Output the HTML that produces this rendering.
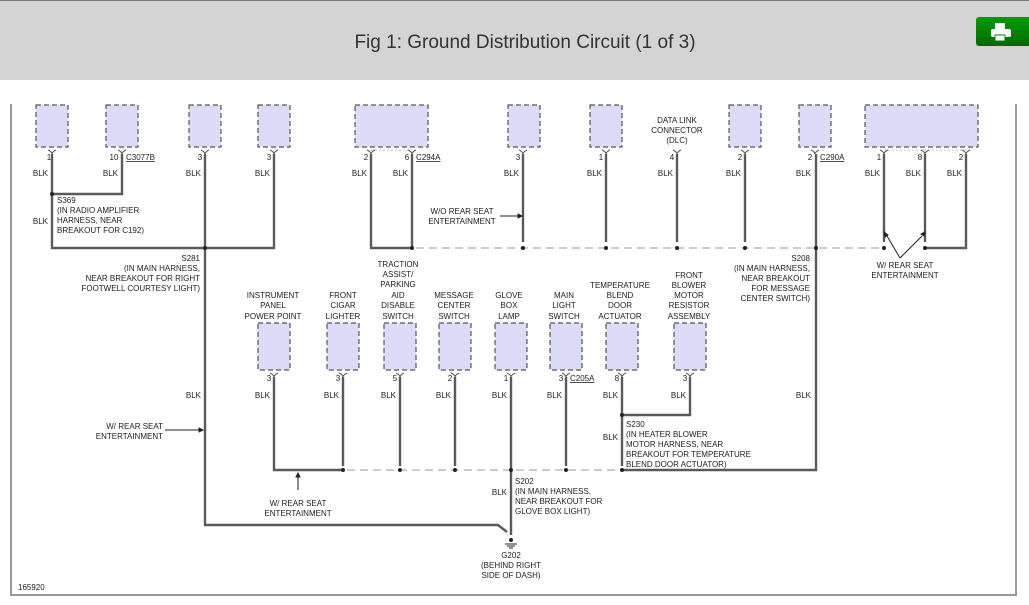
<!DOCTYPE html>
<html><head><meta charset="utf-8"><style>
html,body{margin:0;padding:0;width:1029px;height:605px;overflow:hidden;background:#fff;font-family:"Liberation Sans",Arial,sans-serif;}
#hdr{position:absolute;left:0;top:0;width:1029px;height:80px;background:#d4d4d4;border-top:1px solid #777;box-sizing:border-box;}
#title{position:absolute;left:0;width:1050px;top:31px;text-align:center;font-size:19px;color:#333;}
#btn{position:absolute;left:976px;top:16px;width:60px;height:29px;background:linear-gradient(#0a9a0a,#006a00);border-radius:3px;}
svg{position:absolute;left:0;top:0;}
text{font-family:"Liberation Sans",Arial,sans-serif;font-size:8px;fill:#222;}
</style></head><body>
<div id="hdr"><div id="title">Fig 1: Ground Distribution Circuit (1 of 3)</div>
<div id="btn"><svg width="40" height="29" style="position:absolute;left:12px;top:4px"><rect x="7" y="2" width="10" height="6" fill="#fff"/><rect x="3" y="8" width="20" height="8" rx="2" fill="#fff"/><rect x="7" y="14" width="10" height="6" fill="#fff" stroke="#080" stroke-width="1"/></svg></div></div>
<svg width="1029" height="605">
<g stroke="#999" stroke-width="2" fill="none"><path d="M11 104V595H1016V104"/></g>
<g fill="#dcdcf8" stroke="#555" stroke-dasharray="5,3" stroke-width="1.2">
<rect x="36" y="105" width="32" height="42"/><rect x="106" y="105" width="32" height="42"/><rect x="189" y="105" width="32" height="42"/><rect x="258" y="105" width="32" height="42"/><rect x="355" y="105" width="73" height="42"/><rect x="508" y="105" width="32" height="42"/><rect x="590" y="105" width="32" height="42"/><rect x="729" y="105" width="32" height="42"/><rect x="799" y="105" width="32" height="42"/><rect x="865" y="105" width="113" height="42"/>
<rect x="258" y="323" width="32" height="47"/><rect x="327" y="323" width="32" height="47"/><rect x="384" y="323" width="32" height="47"/><rect x="439" y="323" width="32" height="47"/><rect x="495" y="323" width="32" height="47"/><rect x="550" y="323" width="32" height="47"/><rect x="606" y="323" width="32" height="47"/><rect x="674" y="323" width="32" height="47"/>
</g>
<g stroke="#bbb" stroke-dasharray="2,2" stroke-width="1"><path d="M371 150H412M884 150H966"/></g>
<g stroke="#555" stroke-width="1" fill="none">
<path d="M48 150q4 2 4 4q0-2 4-4M118 150q4 2 4 4q0-2 4-4M201 150q4 2 4 4q0-2 4-4M270 150q4 2 4 4q0-2 4-4M367 150q4 2 4 4q0-2 4-4M408 150q4 2 4 4q0-2 4-4M519 150q4 2 4 4q0-2 4-4M602 150q4 2 4 4q0-2 4-4M673 150q4 2 4 4q0-2 4-4M741 150q4 2 4 4q0-2 4-4M811 150q4 2 4 4q0-2 4-4M880 150q4 2 4 4q0-2 4-4M921 150q4 2 4 4q0-2 4-4M962 150q4 2 4 4q0-2 4-4"/>
<path d="M270 373q4 2 4 4q0-2 4-4M339 373q4 2 4 4q0-2 4-4M396 373q4 2 4 4q0-2 4-4M451 373q4 2 4 4q0-2 4-4M507 373q4 2 4 4q0-2 4-4M562 373q4 2 4 4q0-2 4-4M618 373q4 2 4 4q0-2 4-4M686 373q4 2 4 4q0-2 4-4"/>
</g>
<g stroke="#5a5a5a" stroke-width="2.4" fill="none">
<path d="M52 154V248H274V154M122 154V194H52M205 154V525H498L507 532M371 154V248H412V154"/>
<path d="M523 154V242M606 154V242M677 154V242M745 154V242M816 154V470H622M884 154V242M925 154V242M966 154V248H925"/>
<path d="M274 377V470H343M343 377V466M400 377V466M455 377V466M511 377V535M566 377V466M622 377V466M690 377V415H622"/>
</g>
<g stroke="#ccc" stroke-width="2" stroke-dasharray="8,5"><path d="M416 248H884M347 470H618"/></g>
<g fill="#222"><circle cx="52" cy="194" r="2"/><circle cx="205" cy="248" r="2"/><circle cx="412" cy="248" r="2"/><circle cx="523" cy="248" r="2"/><circle cx="606" cy="248" r="2"/><circle cx="677" cy="248" r="2"/><circle cx="745" cy="248" r="2"/><circle cx="816" cy="248" r="2"/><circle cx="884" cy="248" r="2"/><circle cx="925" cy="248" r="2"/>
<circle cx="622" cy="415" r="2"/><circle cx="343" cy="470" r="2"/><circle cx="400" cy="470" r="2"/><circle cx="455" cy="470" r="2"/><circle cx="511" cy="470" r="2"/><circle cx="566" cy="470" r="2"/><circle cx="622" cy="470" r="2"/><circle cx="511" cy="540" r="2"/></g>
<g stroke="#222" stroke-width="1" fill="#222">
<path d="M500 216H519" fill="none"/><path d="M522 216l-4-2v4z"/>
<path d="M165 430H199" fill="none"/><path d="M203 430l-4-2v4z"/>
<path d="M298 490V477" fill="none"/><path d="M298 473l-2 4h4z"/>
<path d="M900 258L887 236M900 258L922 236" fill="none"/><path d="M884 232l1 5 3-2zM925 232l-4 2 3 2z"/>
<path d="M505 544H517M507 546H515M509 548H513" fill="none"/>
</g>
<g text-anchor="middle">
<text x="49" y="160">1</text><text x="114" y="160">10</text><text x="200" y="160">3</text><text x="269" y="160">3</text><text x="366" y="160">2</text><text x="407" y="160">6</text><text x="518" y="160">3</text><text x="601" y="160">1</text><text x="672" y="160">4</text><text x="740" y="160">2</text><text x="810" y="160">2</text><text x="879" y="160">1</text><text x="920" y="160">8</text><text x="961" y="160">2</text>
<text x="677" y="123">DATA LINK</text><text x="677" y="133">CONNECTOR</text><text x="677" y="143">(DLC)</text>
<text x="269" y="381">3</text><text x="338" y="381">3</text><text x="395" y="381">5</text><text x="450" y="381">2</text><text x="506" y="381">1</text><text x="561" y="381">3</text><text x="617" y="381">8</text><text x="685" y="381">3</text>
<text x="273" y="298">INSTRUMENT</text><text x="273" y="308">PANEL</text><text x="273" y="319">POWER POINT</text>
<text x="343" y="298">FRONT</text><text x="343" y="308">CIGAR</text><text x="343" y="319">LIGHTER</text>
<text x="398" y="267">TRACTION</text><text x="398" y="277">ASSIST/</text><text x="398" y="287">PARKING</text><text x="398" y="298">AID</text><text x="398" y="308">DISABLE</text><text x="398" y="319">SWITCH</text>
<text x="454" y="298">MESSAGE</text><text x="454" y="308">CENTER</text><text x="454" y="319">SWITCH</text>
<text x="509" y="298">GLOVE</text><text x="509" y="308">BOX</text><text x="509" y="319">LAMP</text>
<text x="564" y="298">MAIN</text><text x="564" y="308">LIGHT</text><text x="564" y="319">SWITCH</text>
<text x="620" y="288">TEMPERATURE</text><text x="620" y="298">BLEND</text><text x="620" y="308">DOOR</text><text x="620" y="319">ACTUATOR</text>
<text x="689" y="278">FRONT</text><text x="689" y="288">BLOWER</text><text x="689" y="298">MOTOR</text><text x="689" y="308">RESISTOR</text><text x="689" y="319">ASSEMBLY</text>
<text x="462" y="214">W/O REAR SEAT</text><text x="462" y="224">ENTERTAINMENT</text>
<text x="905" y="268">W/ REAR SEAT</text><text x="905" y="278">ENTERTAINMENT</text>
<text x="298" y="506">W/ REAR SEAT</text><text x="298" y="516">ENTERTAINMENT</text>
<text x="511" y="558">G202</text><text x="511" y="568">(BEHIND RIGHT</text><text x="511" y="578">SIDE OF DASH)</text>
</g>
<g text-anchor="end">
<text x="48" y="176">BLK</text><text x="118" y="176">BLK</text><text x="201" y="176">BLK</text><text x="270" y="176">BLK</text><text x="367" y="176">BLK</text><text x="408" y="176">BLK</text><text x="519" y="176">BLK</text><text x="602" y="176">BLK</text><text x="673" y="176">BLK</text><text x="741" y="176">BLK</text><text x="811" y="176">BLK</text><text x="880" y="176">BLK</text><text x="921" y="176">BLK</text><text x="962" y="176">BLK</text>
<text x="48" y="224">BLK</text>
<text x="201" y="398">BLK</text><text x="270" y="398">BLK</text><text x="339" y="398">BLK</text><text x="396" y="398">BLK</text><text x="451" y="398">BLK</text><text x="507" y="398">BLK</text><text x="562" y="398">BLK</text><text x="618" y="398">BLK</text><text x="686" y="398">BLK</text><text x="811" y="398">BLK</text>
<text x="618" y="440">BLK</text><text x="507" y="495">BLK</text>
<text x="200" y="261">S281</text><text x="200" y="271">(IN MAIN HARNESS,</text><text x="200" y="281">NEAR BREAKOUT FOR RIGHT</text><text x="200" y="291">FOOTWELL COURTESY LIGHT)</text>
<text x="810" y="261">S208</text><text x="810" y="271">(IN MAIN HARNESS,</text><text x="810" y="281">NEAR BREAKOUT</text><text x="810" y="291">FOR MESSAGE</text><text x="810" y="301">CENTER SWITCH)</text>
<text x="163" y="429">W/ REAR SEAT</text><text x="163" y="439">ENTERTAINMENT</text>
</g>
<g>
<text x="126" y="160" text-decoration="underline">C3077B</text><text x="416" y="160" text-decoration="underline">C294A</text><text x="820" y="160" text-decoration="underline">C290A</text><text x="570" y="381" text-decoration="underline">C205A</text>
<text x="57" y="203">S369</text><text x="57" y="213">(IN RADIO AMPLIFIER</text><text x="57" y="223">HARNESS, NEAR</text><text x="57" y="233">BREAKOUT FOR C192)</text>
<text x="626" y="427">S230</text><text x="626" y="437">(IN HEATER BLOWER</text><text x="626" y="447">MOTOR HARNESS, NEAR</text><text x="626" y="457">BREAKOUT FOR TEMPERATURE</text><text x="626" y="467">BLEND DOOR ACTUATOR)</text>
<text x="515" y="484">S202</text><text x="515" y="494">(IN MAIN HARNESS,</text><text x="515" y="504">NEAR BREAKOUT FOR</text><text x="515" y="514">GLOVE BOX LIGHT)</text>
<text x="18" y="590">165920</text>
</g>
</svg>
</body></html>
